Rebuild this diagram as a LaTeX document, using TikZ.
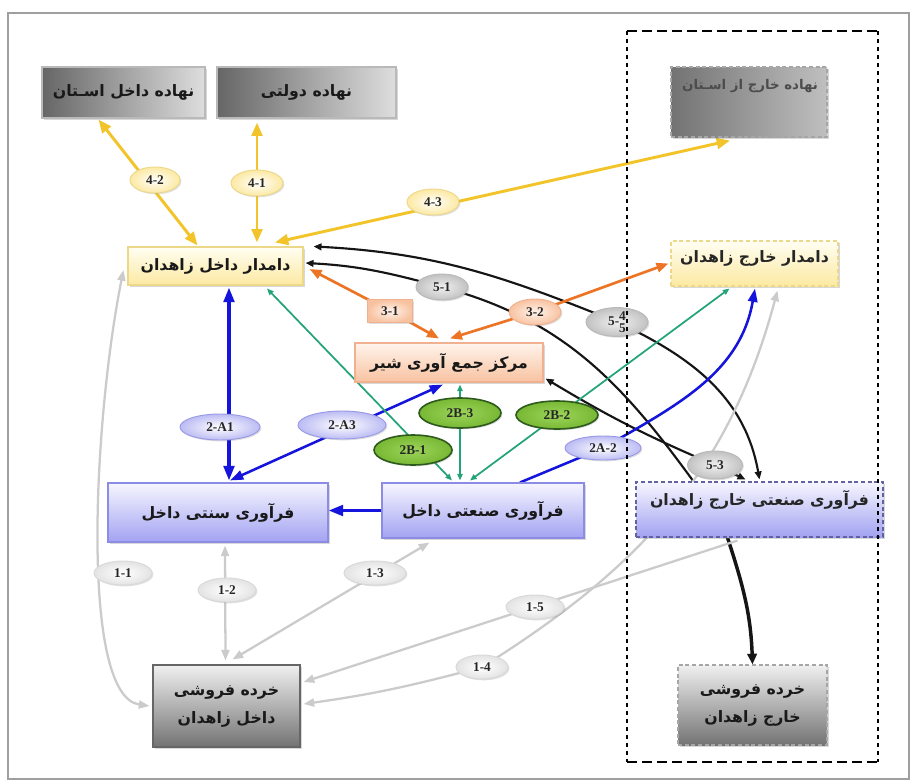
\documentclass[tikz,border=0pt]{standalone}
\usepackage{fontspec}
\setmainfont{Liberation Serif}
\newfontfamily\farsifont[Script=Arabic]{DejaVu Sans}
\TeXXeTstate=1
\usetikzlibrary{arrows.meta,calc,shadows,shapes.geometric}
\pgfdeclarelayer{bg}
\pgfsetlayers{bg,main}
\newcommand\fatxt[1]{{\farsifont\bfseries\beginR #1\endR}}
\definecolor{cyel}{HTML}{F2C42A}
\definecolor{cblk}{HTML}{151515}
\definecolor{corg}{HTML}{EC7424}
\definecolor{cblu}{HTML}{1414DC}
\definecolor{cgrn}{HTML}{23A378}
\definecolor{cgry}{HTML}{CBCBCB}
\definecolor{cyelt}{HTML}{FFFEF2}
\definecolor{cyeld}{HTML}{FCE9A2}
\definecolor{cyelb}{HTML}{EDD88A}
\definecolor{corgt}{HTML}{FFF4EC}
\definecolor{corgd}{HTML}{F8C2A0}
\definecolor{corgb}{HTML}{F0B191}
\definecolor{cblut}{HTML}{F6F6FF}
\definecolor{cblud}{HTML}{A2A2F2}
\definecolor{cblub}{HTML}{8C8CE4}
\definecolor{clav}{HTML}{BCBCF4}
\definecolor{clavb}{HTML}{9A9AE6}
\definecolor{cgin}{HTML}{9CD45A}
\definecolor{cgout}{HTML}{78B834}
\definecolor{cgb}{HTML}{2F5A1E}
\tikzset{
  box/.style={rectangle, inner sep=2pt, align=center, text=black!90,
    font=\fontsize{11.8}{21}\selectfont,
    drop shadow={opacity=0.3,shadow xshift=1.2pt,shadow yshift=-1.2pt}},
  gboxH/.style={box, draw=gray!55, line width=0.8pt, left color=black!60, right color=black!13},
  gboxV/.style={box, draw=gray!80!black, line width=0.8pt, top color=black!6, bottom color=black!55},
  ybox/.style={box, draw=cyelb, line width=0.8pt, top color=cyelt, bottom color=cyeld},
  obox/.style={box, draw=corgb, line width=0.8pt, top color=corgt, bottom color=corgd},
  bbox/.style={box, draw=cblub, line width=0.8pt, top color=cblut, bottom color=cblud},
  dashbox/.style={dash pattern=on 3pt off 2pt},
  plaintxt/.style={inner sep=0pt, text=black!85, font=\fontsize{11.8}{21}\selectfont},
  lbl/.style={ellipse, inner sep=0pt, font=\fontsize{10}{11}\selectfont\bfseries, text=black!85,
    drop shadow={opacity=0.25,shadow xshift=1pt,shadow yshift=-1pt}},
  ylbl/.style={lbl, draw=cyelb, line width=0.7pt, inner color=white, outer color=cyeld},
  klbl/.style={lbl, draw=gray!55, line width=0.7pt, inner color=gray!12, outer color=gray!48},
  vlbl/.style={lbl, draw=clavb, line width=0.7pt, inner color=white, outer color=clav},
  glbl/.style={lbl, draw=cgb, line width=1.2pt, inner color=cgin, outer color=cgout},
  llbl/.style={lbl, draw=gray!30, line width=0.7pt, inner color=white, outer color=gray!22},
  olbl/.style={lbl, draw=corgb, line width=0.7pt, inner color=corgt, outer color=corgd},
  yline/.style={cyel, line width=2.2pt, >={Triangle[length=10pt,width=8pt]}},
  bline/.style={cblk, line width=1.6pt, >={Triangle[length=6pt,width=5pt]}},
  oline/.style={corg, line width=2pt, >={Triangle[length=9pt,width=7pt]}},
  buline/.style={cblu, line width=2.4pt, >={Triangle[length=11pt,width=8pt]}},
  buline2/.style={cblu, line width=1.9pt, >={Triangle[length=10pt,width=7pt]}},
  gline/.style={cgrn, line width=1.3pt, >={Triangle[length=5pt,width=4pt]}},
  grline/.style={cgry, line width=1.7pt, >={Triangle[length=8pt,width=6pt]}},
}
\begin{document}
\begin{tikzpicture}[x=0.75pt,y=-0.75pt]
\useasboundingbox (0,0) rectangle (910,782);
\draw[gray!75, line width=1pt] (8,13) rectangle (909,779);

% boxes
\node[gboxH, minimum width=122.25pt, minimum height=38.25pt] (nIn) at (123.5,92.5) {\fatxt{نهاده داخل اسـتان}};
\node[gboxH, minimum width=134.25pt, minimum height=38.25pt] (nGov) at (306.5,92.5) {\fatxt{نهاده دولتی}};
\node[gboxH, dashbox, draw=gray!70, left color=black!55, right color=black!25, minimum width=117pt, minimum height=52.5pt] (nOut) at (749,102) {};
\node[plaintxt, text=black!70, font=\fontsize{10}{12}\selectfont] (tnOut) at (750,86) {\fatxt{نهاده خارج از اسـتان}};
\node[ybox, minimum width=131.25pt, minimum height=28.5pt] (dIn) at (215.5,266) {\fatxt{دامدار داخل زاهدان}};
\node[ybox, dashbox, minimum width=125.25pt, minimum height=33.75pt] (dOut) at (754.5,263.5) {};
\node[plaintxt] (tdOut) at (754.5,258) {\fatxt{دامدار خارج زاهدان}};
\node[obox, minimum width=141pt, minimum height=29.25pt] (mrk) at (449,362.5) {\fatxt{مرکز جمع آوری شیر}};
\node[bbox, minimum width=165pt, minimum height=44.25pt] (fSon) at (218,512.5) {\fatxt{فرآوری سنتی داخل}};
\node[bbox, minimum width=151.5pt, minimum height=41.25pt] (fSan) at (483,510.5) {\fatxt{فرآوری صنعتی داخل}};
\node[bbox, dashbox, draw=cblub!70!black, minimum width=185.25pt, minimum height=41.25pt] (fOut) at (759.5,509.5) {};
\node[plaintxt] (tfOut) at (759.5,500) {\fatxt{فرآوری صنعتی خارج زاهدان}};
\node[gboxV, minimum width=110.25pt, minimum height=61.5pt] (kIn) at (226.5,706) {\fatxt{خرده فروشی}\\\fatxt{داخل زاهدان}};
\node[gboxV, dashbox, draw=gray!70, minimum width=111.75pt, minimum height=60pt] (kOut) at (752.5,705) {\fatxt{خرده فروشی}\\\fatxt{خارج زاهدان}};

% labels
\node[ylbl, minimum width=37.5pt, minimum height=19.5pt] (l42) at (155,180) {4-2};
\node[ylbl, minimum width=39pt, minimum height=19.5pt] (l41) at (257,183) {4-1};
\node[ylbl, minimum width=39pt, minimum height=19.5pt] (l43) at (433,202) {4-3};
\node[olbl, rectangle, minimum width=33.75pt, minimum height=17.25pt] (l31) at (390,311) {3-1};
\node[olbl, minimum width=39pt, minimum height=19.5pt] (l32) at (535,312) {3-2};
\node[klbl, minimum width=39pt, minimum height=19.5pt] (l51) at (442,287) {5-1};
\node[klbl, minimum width=46.5pt, minimum height=21pt] (l54) at (617,322) {5-\raisebox{4pt}{4}\llap{\raisebox{-4.6pt}{5}}};
\node[klbl, minimum width=41.25pt, minimum height=21pt] (l53) at (715,465) {5-3};
\node[vlbl, minimum width=60pt, minimum height=19.5pt] (l2a1) at (220,427) {2-A1};
\node[vlbl, minimum width=66pt, minimum height=21pt] (l2a3) at (342,425) {2-A3};
\node[vlbl, minimum width=57pt, minimum height=18pt] (l2a2) at (603,448) {2A-2};
\node[glbl, minimum width=61.5pt, minimum height=22.5pt] (l2b3) at (460,413) {2B-3};
\node[glbl, minimum width=58.5pt, minimum height=22.5pt] (l2b1) at (413,450) {2B-1};
\node[glbl, minimum width=61.5pt, minimum height=21pt] (l2b2) at (557,415) {2B-2};
\node[llbl, minimum width=43.5pt, minimum height=18pt] (l11) at (123,573) {1-1};
\node[llbl, minimum width=43.5pt, minimum height=18pt] (l12) at (227,590) {1-2};
\node[llbl, minimum width=46.5pt, minimum height=18pt] (l13) at (375,573) {1-3};
\node[llbl, minimum width=43.5pt, minimum height=18pt] (l15) at (535,607) {1-5};
\node[llbl, minimum width=39pt, minimum height=18pt] (l14) at (482,667) {1-4};

\begin{pgfonlayer}{bg}
\fill[white] (0,0) rectangle (910,782);
% yellow
\draw[yline,<->] ($(nIn.south)+(-25,1)$) -- ($(dIn.north)+(-18,-1)$);
\draw[yline,<->] ($(nGov.south)+(-49.5,4)$) -- ($(dIn.north)+(41.5,-4)$);
\draw[yline,<->] ($(nOut.south)+(-19,3)$) -- ($(dIn.north)+(59.5,-4)$);
% black
\draw[bline,<-] ($(dIn.east)+(2,-3)$) to[out=-3,in=165] (l51.center) to[out=-15,in=126] ($(fOut.north)+(-66,0)$);
\draw[bline,<->] ($(dIn.north east)+(10,0)$) to[out=-3,in=158] (l54.center) to[out=-25,in=100] ($(fOut.north)+(0,-2)$);
\draw[bline,<->] ($(mrk.south east)+(2,-4)$) to[bend right=4] (l53.center) -- ($(fOut.north)+(-14,-2)$);
\draw[bline, line width=2.6pt, ->, >={Triangle[length=8pt,width=7pt]}] ($(fOut.south)+(-32,0)$) to[out=-72,in=92] (kOut.north);
% orange
\draw[oline,<->] ($(dIn.east)+(6,3)$) -- (l31.center) -- ($(mrk.north)+(-10,-4)$);
\draw[oline,<->] ($(mrk.north)+(1,-4)$) -- (l32.center) -- ($(dOut.west)+(-2,0)$);
% blue
\draw[buline,<->] ($(dIn.south)+(13.5,2)$) -- ($(fSon.north)+(11,-2)$);
\draw[buline2,<->] ($(fSon.north)+(12,-2)$) -- ($(mrk.south)+(-6,2)$);
\draw[buline,->] (fSan.west) -- (fSan.west -| fSon.east);
\draw[buline2,->] ($(fSan.north)+(37,0)$) -- (l2a2.center) to[out=30,in=-100] ($(dOut.south)+(0.5,2)$);
% green
\draw[gline,<->] ($(dIn.south)+(51.5,3)$) -- ($(fSan.north)+(-31,-2)$);
\draw[gline,<->] ($(mrk.south)+(11,2)$) -- ($(fSan.north)+(-23,-2)$);
\draw[gline,<->] ($(fSan.north)+(-13,-2)$) -- ($(dOut.south west)+(59,2)$);
% grey
\draw[grline,<->] ($(dIn.west)+(-4,4)$) .. controls +(-30,150) and +(-70,-10) .. ($(kIn.west)+(-3,0)$);
\draw[grline,<->] ($(fSon.south)+(7,3)$) -- ($(kIn.north)+(-1,-4)$);
\draw[grline,<->] ($(fSan.south west)+(48,4)$) -- ($(kIn.north)+(6,-5)$);
\draw[grline,->] ($(fOut.south)+(-22,3)$) -- ($(kIn.east)+(3,-24)$);
\draw[grline,<->] ($(kIn.east)+(3,-2)$) to[out=8,in=195] (l14.center) to[out=32,in=-105] ($(dOut.south)+(23,4)$);
\end{pgfonlayer}

% dashed region
\draw[black, line width=2.2pt, dash pattern=on 7.5pt off 3.75pt] (627,31) -- (878,31);
\draw[black, line width=2.2pt, dash pattern=on 7.5pt off 3.75pt] (627,762) -- (878,762);
\draw[black, line width=2.2pt, dash pattern=on 3pt off 3pt] (627,31) -- (627,762);
\draw[black, line width=2.2pt, dash pattern=on 3pt off 3pt] (878,31) -- (878,762);
\end{tikzpicture}
\end{document}
